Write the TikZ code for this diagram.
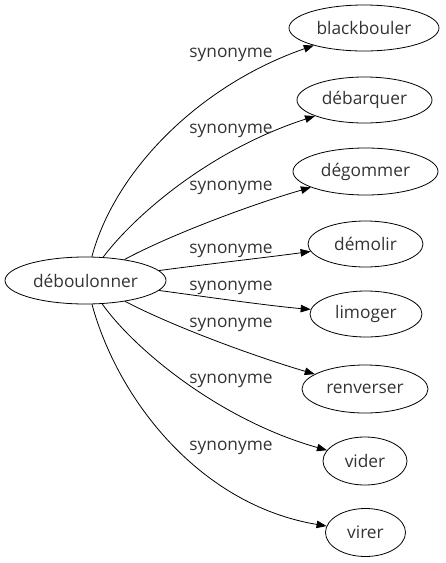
\documentclass[tikz,border=0pt]{standalone}
\usepackage{fontspec}
\setmainfont{Open Sans}
\usetikzlibrary{shapes.geometric,arrows.meta}
\definecolor{txt}{gray}{0.2}
\tikzset{
  word/.style={draw=black, line width=0.8pt, ellipse, inner sep=0pt, text=txt, font=\fontsize{17.3}{19}\selectfont},
  rel/.style={text=txt, font=\fontsize{17.3}{19}\selectfont, inner sep=0pt},
  edge/.style={draw=black, line width=0.8pt, -{Triangle[length=10pt,width=7.5pt]}},
}
\begin{document}
\begin{tikzpicture}[x=1pt,y=-1pt]
\useasboundingbox (0,0) rectangle (446,563);
\node[word, minimum width=161pt, minimum height=47pt] (src) at (85.5,280.5) {déboulonner};
\node[word, minimum width=150pt, minimum height=46pt] (t1) at (364,28) {blackbouler};
\node[word, minimum width=135pt, minimum height=46pt] (t2) at (364.5,100) {débarquer};
\node[word, minimum width=145pt, minimum height=47pt] (t3) at (365.5,171.5) {dégommer};
\node[word, minimum width=115pt, minimum height=46pt] (t4) at (365.5,244) {démolir};
\node[word, minimum width=112pt, minimum height=46pt] (t5) at (366,314) {limoger};
\node[word, minimum width=126pt, minimum height=48pt] (t6) at (365,389) {renverser};
\node[word, minimum width=84pt, minimum height=48pt] (t7) at (365,461) {vider};
\node[word, minimum width=80pt, minimum height=48pt] (t8) at (365.5,532.5) {virer};

\draw[edge] (src) .. controls (115,170) and (200,85) .. (t1);
\draw[edge] (src) .. controls (135,215) and (210,150) .. (t2);
\draw[edge] (src) .. controls (170,235) and (250,205) .. (t3);
\draw[edge] (src) .. controls (200,265) and (270,257) .. (t4);
\draw[edge] (src) .. controls (200,296) and (270,306) .. (t5);
\draw[edge] (src) .. controls (170,325) and (250,355) .. (t6);
\draw[edge] (src) .. controls (135,350) and (220,420) .. (t7);
\draw[edge] (src) .. controls (118,400) and (200,505) .. (t8);

\node[rel] (l1) at (231,55) {synonyme};
\node[rel] (l2) at (231,131) {synonyme};
\node[rel] (l3) at (231,188) {synonyme};
\node[rel] (l4) at (231,251) {synonyme};
\node[rel] (l5) at (231,288) {synonyme};
\node[rel] (l6) at (231,325) {synonyme};
\node[rel] (l7) at (231,381) {synonyme};
\node[rel] (l8) at (231,448) {synonyme};
\end{tikzpicture}
\end{document}
